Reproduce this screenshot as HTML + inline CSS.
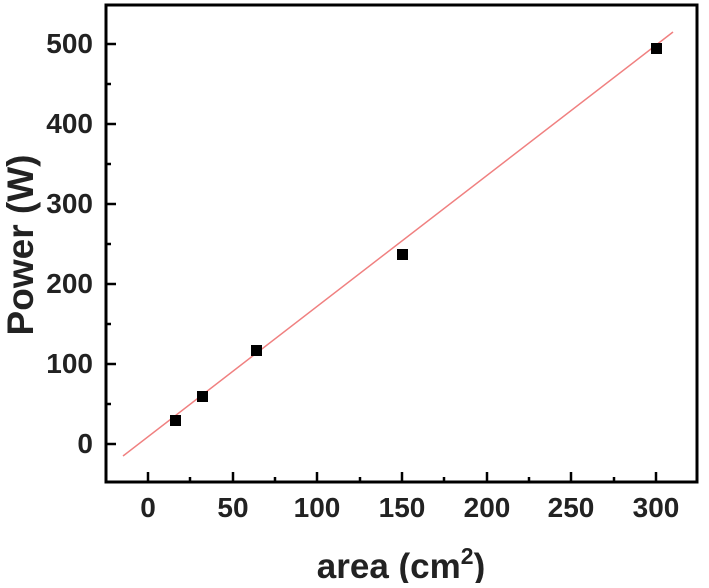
<!DOCTYPE html>
<html><head><style>body{margin:0;background:#fff}</style></head><body>
<svg width="709" height="583" xmlns="http://www.w3.org/2000/svg" font-family="Liberation Sans, sans-serif" font-weight="bold">
<rect x="0" y="0" width="709" height="583" fill="#fff"/>
<line x1="123" y1="456" x2="673" y2="32" stroke="#f08080" stroke-width="1.5"/>
<g fill="#000">
<rect x="170" y="415" width="11" height="11"/>
<rect x="197" y="391" width="11" height="11"/>
<rect x="251" y="345" width="11" height="11"/>
<rect x="397" y="249" width="11" height="11"/>
<rect x="651" y="43" width="11" height="11"/>
</g>
<rect x="106" y="5" width="591" height="477" fill="none" stroke="#000" stroke-width="3"/>
<g stroke="#000" stroke-width="2.5">
<line x1="106" y1="44" x2="116" y2="44"/><line x1="106" y1="124" x2="116" y2="124"/><line x1="106" y1="204" x2="116" y2="204"/><line x1="106" y1="284" x2="116" y2="284"/><line x1="106" y1="364" x2="116" y2="364"/><line x1="106" y1="444" x2="116" y2="444"/>
<line x1="106" y1="84" x2="111" y2="84"/><line x1="106" y1="164" x2="111" y2="164"/><line x1="106" y1="244" x2="111" y2="244"/><line x1="106" y1="324" x2="111" y2="324"/><line x1="106" y1="404" x2="111" y2="404"/>
<line x1="148" y1="482" x2="148" y2="472"/><line x1="233" y1="482" x2="233" y2="472"/><line x1="317" y1="482" x2="317" y2="472"/><line x1="402" y1="482" x2="402" y2="472"/><line x1="487" y1="482" x2="487" y2="472"/><line x1="571" y1="482" x2="571" y2="472"/><line x1="656" y1="482" x2="656" y2="472"/>
<line x1="190" y1="482" x2="190" y2="477"/><line x1="275" y1="482" x2="275" y2="477"/><line x1="360" y1="482" x2="360" y2="477"/><line x1="444" y1="482" x2="444" y2="477"/><line x1="529" y1="482" x2="529" y2="477"/><line x1="614" y1="482" x2="614" y2="477"/>
</g>
<g font-size="28" fill="#222" text-anchor="end">
<text x="93" y="53">500</text><text x="93" y="133">400</text><text x="93" y="213">300</text><text x="93" y="293">200</text><text x="93" y="373">100</text><text x="93" y="453">0</text>
</g>
<g font-size="28" fill="#222" text-anchor="middle">
<text x="148" y="517">0</text><text x="233" y="517">50</text><text x="317" y="517">100</text><text x="402" y="517">150</text><text x="487" y="517">200</text><text x="571" y="517">250</text><text x="656" y="517">300</text>
</g>
<text x="401" y="578" font-size="35" fill="#222" text-anchor="middle">area (cm<tspan font-size="23" dy="-14">2</tspan><tspan dy="14">)</tspan></text>
<text transform="translate(33,245) rotate(-90)" font-size="37" fill="#222" text-anchor="middle">Power (W)</text>
</svg>
</body></html>
